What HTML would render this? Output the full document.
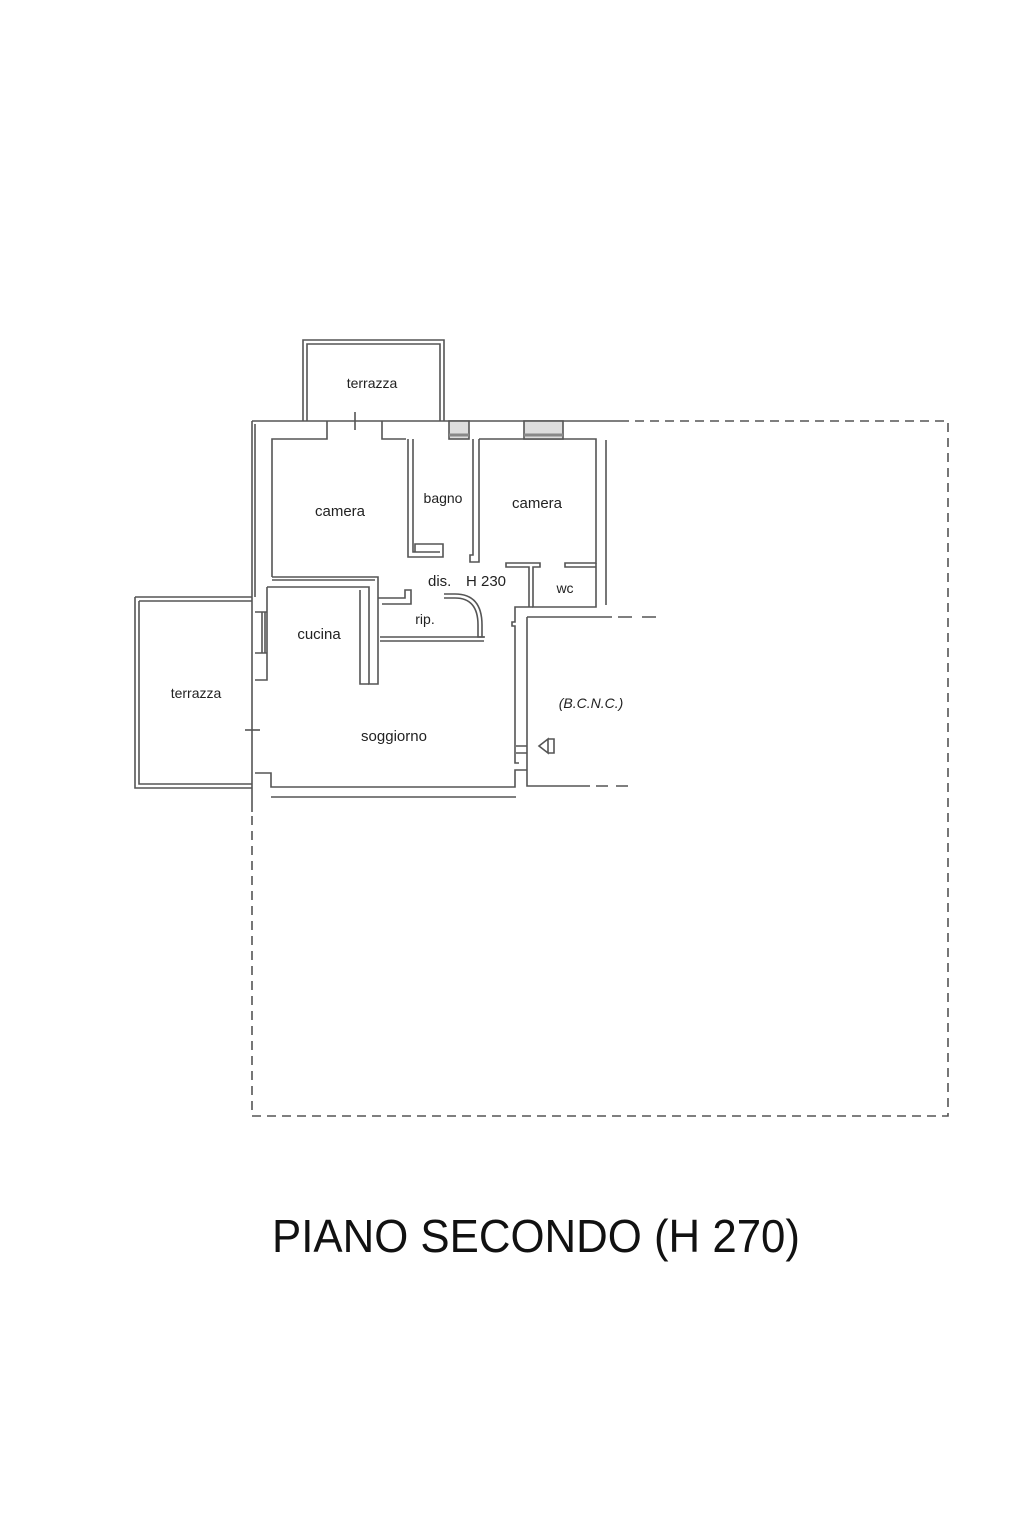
<!DOCTYPE html>
<html><head><style>
html,body{margin:0;padding:0;background:#fff;}
svg{display:block}
text{font-family:"Liberation Sans",Arial,sans-serif;fill:#222}
</style></head><body>
<svg width="1024" height="1536" viewBox="0 0 1024 1536" xmlns="http://www.w3.org/2000/svg">
<g fill="none" stroke="#555" stroke-width="1.6">
<path d="M620 421 H948 V1116 H252 V812" stroke-dasharray="9,6"/>
<path d="M252 421 H620"/>
<path d="M252 421 V812"/>
<path d="M255 424 V597"/>
<path d="M303 421 V340 H444 V421"/>
<path d="M307 421 V344 H440 V421"/>
<path d="M355 412 V430"/>
<path d="M272 577 V439 H327 V421"/>
<path d="M382 421 V439 H406"/>
<path d="M272 577 H378 V595"/>
<path d="M272 580 H375"/>
<path d="M408 439 V557 H443 V544 H415 V552"/>
<path d="M413 439 V552 H440"/>
<path d="M473 439 V555 H470 V562 H479 V439"/>
<path d="M479 439 H596 V563 H565 V567 H596"/>
<path d="M596 563 V607 H533 V567 H540 V563 H506 V567 H529 V607"/>
<path d="M606 440 V605"/>
<rect x="449" y="421" width="20" height="18" fill="#ddd"/>
<rect x="524" y="421" width="39" height="18" fill="#ddd"/>
<path d="M449 435 H469 M524 435 H563" stroke-width="3" stroke="#888"/>
<path d="M533 607 H515 V622 H512 V626 H515 V763 H519 M527 617 H612"/>
<path d="M618 617 H660" stroke-dasharray="14,10"/>
<path d="M444 598 H455 Q478 598 478 625 V637 H485"/>
<path d="M444 594 H455 Q482 594 482 625 V637"/>
<path d="M378 595 V684 H369 V587 H267"/>
<path d="M378 598 H405 V590 H411 V604 H382"/>
<path d="M380 637 H484 M380 641 H484"/>
<path d="M267 587 V680 H255"/>
<path d="M255 612 H267 M255 653 H267"/>
<path d="M262 612 V653 M265 612 V653"/>
<path d="M360 590 V684 H369"/>
<path d="M135 597 H252 M139 601 H252 M135 597 V788 H252 M139 601 V784 H252"/>
<path d="M245 730 H260"/>
<path d="M255 773 H271 V787 H515 V770 H527"/>
<path d="M271 797 H516"/>
<path d="M527 617 V786 H590"/>
<path d="M596 786 H630" stroke-dasharray="12,8"/>
<path d="M516 746 H527 M516 753 H527"/>
<path d="M539 746 L548 739 V753 Z M548 739 H554 V753 H548"/>
</g>
<text x="372" y="388" font-size="14" text-anchor="middle">terrazza</text>
<text x="340" y="516" font-size="15" text-anchor="middle">camera</text>
<text x="443" y="503" font-size="14" text-anchor="middle">bagno</text>
<text x="537" y="508" font-size="15" text-anchor="middle">camera</text>
<text x="565" y="593" font-size="14" text-anchor="middle">wc</text>
<text x="428" y="586" font-size="15">dis.</text>
<text x="466" y="586" font-size="15">H 230</text>
<text x="425" y="624" font-size="14" text-anchor="middle">rip.</text>
<text x="319" y="639" font-size="15" text-anchor="middle">cucina</text>
<text x="196" y="698" font-size="14" text-anchor="middle">terrazza</text>
<text x="394" y="741" font-size="15" text-anchor="middle">soggiorno</text>
<text x="591" y="708" font-size="14" font-style="italic" text-anchor="middle">(B.C.N.C.)</text>
<text x="272" y="1252" font-size="46" textLength="528" lengthAdjust="spacingAndGlyphs" style="fill:#111">PIANO SECONDO (H 270)</text>
</svg>
</body></html>
